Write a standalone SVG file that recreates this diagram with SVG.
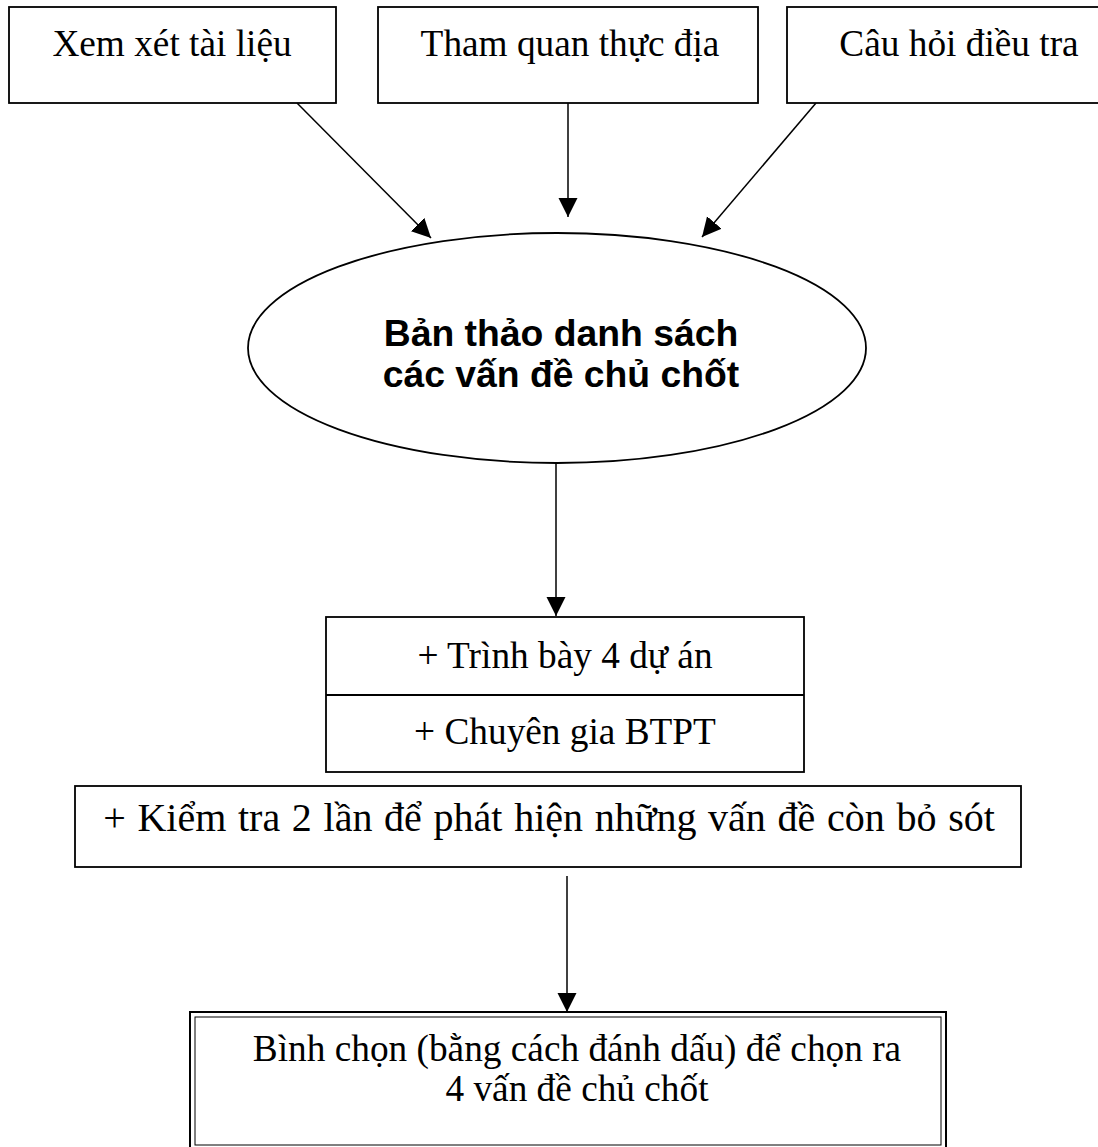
<svg xmlns="http://www.w3.org/2000/svg" width="1098" height="1147" viewBox="0 0 1098 1147">
<defs>
<style>
.box{fill:#fff;stroke:#000;stroke-width:1.8}
.t{font-family:"Liberation Serif","Times New Roman",serif;font-size:37.3px;fill:#000;text-anchor:middle}
.b{font-family:"Liberation Sans",Arial,sans-serif;font-size:37.3px;font-weight:bold;fill:#000;text-anchor:middle}
.c{stroke:#000;stroke-width:1.5;fill:none;marker-end:url(#ah)}
</style>
<marker id="ah" markerUnits="userSpaceOnUse" markerWidth="20" markerHeight="20" refX="19" refY="9.5" orient="auto">
<path d="M0,0 L19,9.5 L0,19 z" fill="#000"/>
</marker>
</defs>
<rect width="1098" height="1147" fill="#fff"/>
<g id="connectors">
<line class="c" x1="297" y1="103" x2="431" y2="238"/>
<line class="c" x1="568" y1="103" x2="568" y2="217"/>
<line class="c" x1="816" y1="103" x2="702" y2="237"/>
<line class="c" x1="556" y1="463" x2="556" y2="616"/>
<line class="c" x1="567" y1="876" x2="567" y2="1012"/>
</g>
<g id="n-xem">
<rect class="box" x="9" y="7" width="327" height="96"/>
<text class="t" x="172" y="56">Xem xét tài liệu</text>
</g>
<g id="n-tham">
<rect class="box" x="378" y="7" width="380" height="96"/>
<text class="t" x="570" y="56">Tham quan thực địa</text>
</g>
<g id="n-cauhoi">
<rect class="box" x="787" y="7" width="320" height="96"/>
<text class="t" x="959" y="56">Câu hỏi điều tra</text>
</g>
<g id="n-banthao">
<ellipse class="box" cx="557" cy="348" rx="309" ry="115"/>
<text class="b" x="561" y="346">Bản thảo danh sách</text>
<text class="b" x="561" y="387">các vấn đề chủ chốt</text>
</g>
<g id="n-trinhbay">
<rect class="box" x="326" y="617" width="478" height="155"/>
<line x1="326" y1="695" x2="804" y2="695" stroke="#000" stroke-width="1.8"/>
<text class="t" x="565" y="668">+ Trình bày 4 dự án</text>
<text class="t" x="565" y="744">+ Chuyên gia BTPT</text>
</g>
<g id="n-kiemtra">
<rect class="box" x="75" y="786" width="946" height="81"/>
<text class="t" x="549" y="831" style="font-size:40px;word-spacing:1.7px">+ Kiểm tra 2 lần để phát hiện những vấn đề còn bỏ sót</text>
</g>
<g id="n-binhchon">
<rect x="190" y="1012" width="756" height="140" fill="#fff" stroke="#000" stroke-width="2"/>
<rect x="195" y="1017" width="746" height="128" fill="none" stroke="#000" stroke-width="1"/>
<text class="t" x="577" y="1061">Bình chọn (bằng cách đánh dấu) để chọn ra</text>
<text class="t" x="577" y="1101">4 vấn đề chủ chốt</text>
</g>
</svg>
